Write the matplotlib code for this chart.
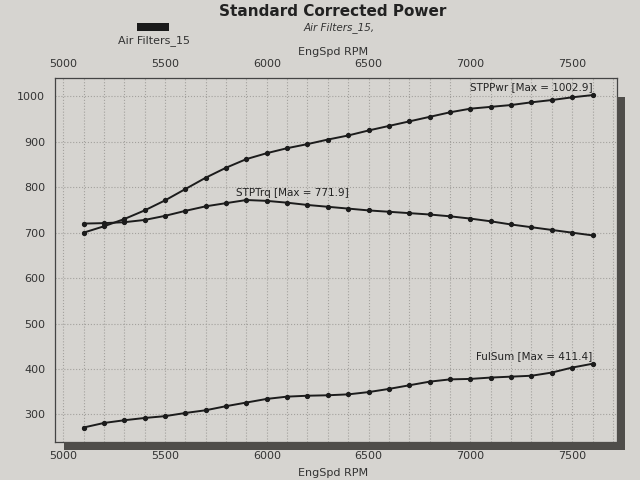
import matplotlib
matplotlib.use("Agg")
import matplotlib.pyplot as plt
from matplotlib.patches import Rectangle

rpm = [5100, 5200, 5300, 5400, 5500, 5600, 5700, 5800, 5900, 6000, 6100, 6200, 6300,
       6400, 6500, 6600, 6700, 6800, 6900, 7000, 7100, 7200, 7300, 7400, 7500, 7600]
stp_pwr = [700, 714, 730, 749, 771, 796, 821, 843, 862, 875, 886, 895, 905,
           914, 925, 935, 945, 955, 965, 973, 977, 981, 987, 992, 998, 1002.9]
stp_trq = [720, 721, 723, 728, 737, 748, 758, 765, 771.9, 770, 766, 761, 757,
           753, 749, 746, 743, 740, 736, 731, 725, 718, 712, 706, 700, 694]
ful_sum = [271, 281, 287, 292, 296, 303, 309, 318, 326, 334, 339, 341, 342,
           344, 349, 356, 364, 372, 377, 378, 381, 383, 385, 392, 403, 411.4]

x_ticks = [5000, 5500, 6000, 6500, 7000, 7500]
y_ticks = [300, 400, 500, 600, 700, 800, 900, 1000]

paper = '#d6d4d0'
ink = '#1c1c1c'

fig = plt.figure(figsize=(6.4, 4.8), dpi=100, facecolor=paper)
ax = fig.add_axes([0.086, 0.08, 0.878, 0.757], facecolor=paper)

# drop shadow of the plot frame
fig.patches.append(Rectangle((0.964, 0.062), 0.012, 0.735, transform=fig.transFigure,
                             facecolor='#4f4d4a', edgecolor='none', zorder=0))
fig.patches.append(Rectangle((0.10, 0.062), 0.876, 0.018, transform=fig.transFigure,
                             facecolor='#4f4d4a', edgecolor='none', zorder=0))

for ys in (stp_pwr, stp_trq, ful_sum):
    ax.plot(rpm, ys, color=ink, lw=1.4, marker='o', ms=2.8, zorder=3)

ax.set_xlim(4960, 7720)
ax.set_ylim(240, 1040)
ax.set_xticks(range(5000, 7800, 100), minor=True)
ax.set_xticks(x_ticks)
ax.set_yticks(y_ticks)
ax.grid(True, which='both', axis='x', color='#a3a19d', ls=':', lw=0.8)
ax.grid(True, which='major', axis='y', color='#a3a19d', ls=':', lw=0.8)
ax.tick_params(which='both', length=0, labelsize=8, colors='#333333', pad=7)
ax.tick_params(axis='x', labeltop=True, labelbottom=True)
for s in ax.spines.values():
    s.set_color('#444444')
    s.set_linewidth(0.9)

ax.text(rpm[-1], stp_pwr[-1] + 6, 'STPPwr [Max = 1002.9]', ha='right', va='bottom',
        fontsize=7.5, color='#222222')
ax.text(5850, 776, 'STPTrq [Max = 771.9]', ha='left', va='bottom',
        fontsize=7.5, color='#222222')
ax.text(rpm[-1], ful_sum[-1] + 6, 'FulSum [Max = 411.4]', ha='right', va='bottom',
        fontsize=7.5, color='#222222')

fig.text(0.52, 0.892, 'EngSpd RPM', ha='center', va='center', fontsize=8, color='#333333')
fig.text(0.52, 0.015, 'EngSpd RPM', ha='center', va='center', fontsize=8, color='#333333')

fig.text(0.52, 0.975, 'Standard Corrected Power', ha='center', va='center',
         fontsize=11, fontweight='bold', color='#222222')
fig.text(0.53, 0.942, 'Air Filters_15,', ha='center', va='center',
         fontsize=7.5, style='italic', color='#333333')

fig.patches.append(Rectangle((0.214, 0.935), 0.05, 0.018, transform=fig.transFigure,
                             facecolor='#1a1a1a', edgecolor='none'))
fig.text(0.24, 0.915, 'Air Filters_15', ha='center', va='center', fontsize=8, color='#333333')

fig.savefig('out.png', dpi=100, facecolor=paper)
